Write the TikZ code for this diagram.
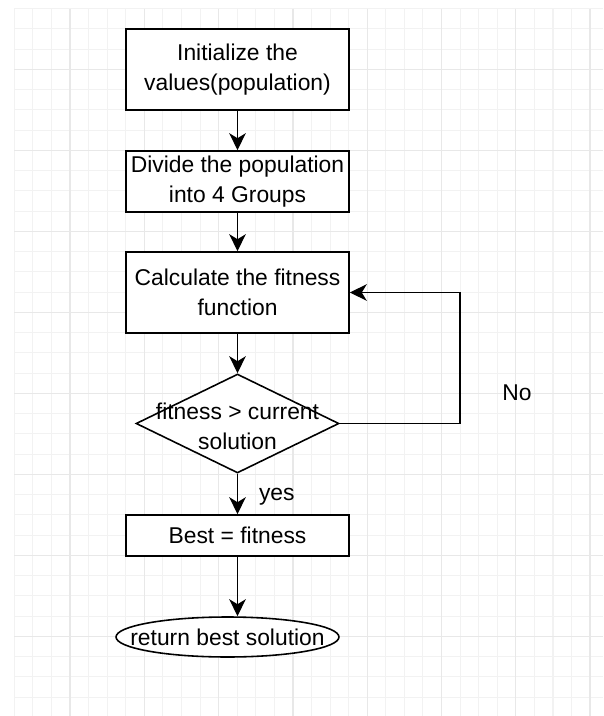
\documentclass[tikz,border=0pt]{standalone}
\usepackage{fontspec}
\setmainfont{Liberation Sans}
\usepackage{tikz}
\usetikzlibrary{positioning, shapes.geometric, arrows.meta}

\begin{document}
\begin{tikzpicture}[x=0.02cm, y=-0.02cm,
		every node/.style={font=\fontsize{13}{17}\selectfont},
		stepbox/.style={draw=black, line width=0.9pt, fill=white, minimum width=4.46cm, align=center, inner sep=0pt},
		flow/.style={line width=0.8pt, -{Stealth[length=3.4mm, width=3.3mm, inset=1mm]}},
		gridminor/.style={draw=black!5, line width=0.6pt},
		gridmajor/.style={draw=black!9, line width=0.7pt}]
		\useasboundingbox (0,0) rectangle (603,716);
		\fill[white] (0,0) rectangle (603,716);
		\foreach \gx in {14.3,32.875,...,603} \draw[gridminor] (\gx,8.55) -- (\gx,716);
		\foreach \gy in {8.55,28.8,...,716} \draw[gridminor] (14.3,\gy) -- (603,\gy);
		\foreach \gx in {70,144.3,...,603} \draw[gridmajor] (\gx,8.55) -- (\gx,716);
		\foreach \gy in {69.3,150.3,...,716} \draw[gridmajor] (14.3,\gy) -- (603,\gy);
		\node[stepbox, minimum height=1.62cm] (init) at (237.5,69.5) {Initialize the\\values(population)};
		\node[stepbox, minimum height=1.22cm] (divide) at (237.5,181.5) {Divide the population\\into 4 Groups};
		\node[stepbox, minimum height=1.62cm] (fit) at (237.5,292.5) {Calculate the fitness\\function};
		\node[diamond, draw=black, line width=0.9pt, fill=white, minimum width=4.06cm, minimum height=1.98cm, inner sep=0pt] (check) at (237.5,423.5) {};
		\node[align=center] (checktext) at (237.5,426) {fitness > current\\solution};
		\node[stepbox, minimum height=0.82cm] (best) at (237.5,535.5) {Best = fitness};
		\node[ellipse, draw=black, line width=0.9pt, fill=white, minimum width=4.46cm, minimum height=0.8cm, inner sep=0pt] (ret) at (227.5,637) {};
		\node (rettext) at (227.5,637) {return best solution};
		\coordinate (loop) at (460,423.5);
		\node (no) at (517,393) {No};
		\draw[flow] (init) -- (divide);
		\draw[flow] (divide) -- (fit);
		\draw[flow] (fit) -- (check);
		\draw[flow] (check) -- (best) node[pos=0.57, right=0.3cm] {yes};
		\draw[flow] (best.south) -- (best.south |- ret.north);
		\draw[flow] (check.east) -- (loop) |- (fit.east);
\end{tikzpicture}
\end{document}
